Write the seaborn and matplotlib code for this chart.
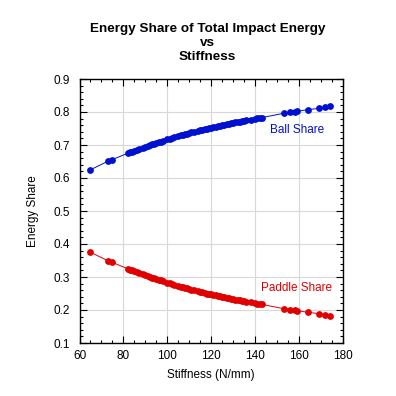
import matplotlib
matplotlib.use("Agg")
import matplotlib.pyplot as plt
import seaborn as sns
import pandas as pd
from matplotlib.ticker import MultipleLocator

stiffness = [65, 73, 75, 82, 83, 84, 85, 86, 87, 89, 90, 91, 92, 93, 94, 95, 96, 97, 98,
             100, 101, 102, 103, 105, 106, 107, 108, 109, 110, 111, 112, 114, 115, 116,
             117, 118, 119, 120, 121, 122, 123, 124, 125, 126, 127, 128, 129, 130, 131,
             132, 133, 134, 135, 136, 138, 140, 141, 142, 143, 153, 156, 158, 159, 164,
             169, 172, 174]
ball_share = [0.625, 0.651, 0.656, 0.675, 0.678, 0.680, 0.683, 0.685, 0.688, 0.692, 0.695,
              0.697, 0.700, 0.702, 0.704, 0.706, 0.708, 0.710, 0.712, 0.717, 0.719, 0.721,
              0.723, 0.727, 0.729, 0.731, 0.732, 0.734, 0.736, 0.738, 0.740, 0.743, 0.745,
              0.746, 0.748, 0.750, 0.751, 0.753, 0.754, 0.756, 0.757, 0.759, 0.760, 0.762,
              0.763, 0.765, 0.766, 0.767, 0.769, 0.770, 0.771, 0.772, 0.774, 0.775, 0.777,
              0.780, 0.781, 0.782, 0.783, 0.796, 0.799, 0.801, 0.802, 0.807, 0.811, 0.814,
              0.817]
paddle_share = [0.375, 0.349, 0.344, 0.325, 0.322, 0.320, 0.317, 0.315, 0.312, 0.308, 0.305,
                0.303, 0.300, 0.298, 0.296, 0.294, 0.292, 0.290, 0.288, 0.283, 0.281, 0.279,
                0.277, 0.273, 0.271, 0.269, 0.268, 0.266, 0.264, 0.262, 0.260, 0.257, 0.255,
                0.254, 0.252, 0.250, 0.249, 0.247, 0.246, 0.244, 0.243, 0.241, 0.240, 0.238,
                0.237, 0.235, 0.234, 0.233, 0.231, 0.230, 0.229, 0.228, 0.226, 0.225, 0.223,
                0.220, 0.219, 0.218, 0.217, 0.204, 0.201, 0.199, 0.198, 0.193, 0.189, 0.186,
                0.183]

title_text = "Energy Share of Total Impact Energy\nvs\nStiffness"
x_label = "Stiffness (N/mm)"
y_label = "Energy Share"
ball_label = "Ball Share"
paddle_label = "Paddle Share"

BLUE = "#0010D0"
RED = "#E00000"

sns.set_style("white")
plt.rcParams["font.family"] = ["Liberation Sans", "DejaVu Sans"]
plt.rcParams["text.color"] = "black"
plt.rcParams["axes.labelcolor"] = "black"
plt.rcParams["xtick.color"] = "black"
plt.rcParams["ytick.color"] = "black"

df = pd.DataFrame({"x": stiffness, "ball": ball_share, "paddle": paddle_share})

fig = plt.figure(figsize=(3.96, 3.96), dpi=100)
ax = fig.add_axes([79.5 / 396, 53 / 396, 263.5 / 396, 264 / 396])

sns.lineplot(data=df, x="x", y="ball", ax=ax, color=BLUE, linewidth=0.7, zorder=3)
sns.scatterplot(data=df, x="x", y="ball", ax=ax, color=BLUE, s=24, linewidth=0, zorder=4)
sns.lineplot(data=df, x="x", y="paddle", ax=ax, color=RED, linewidth=0.7, zorder=3)
sns.scatterplot(data=df, x="x", y="paddle", ax=ax, color=RED, s=24, linewidth=0, zorder=4)

ax.set_xlim(60, 180)
ax.set_ylim(0.1, 0.9)
ax.xaxis.set_major_locator(MultipleLocator(20))
ax.xaxis.set_minor_locator(MultipleLocator(5))
ax.yaxis.set_minor_locator(MultipleLocator(0.02))
ax.set_yticks([0.1, 0.2, 0.3, 0.4, 0.5, 0.6, 0.7, 0.8, 0.9])
ax.set_yticklabels(["0.1", "0.2", "0.3", "0.4", "0.5", "0.6", "0.7", "0.8", "0.9"])

ax.grid(True, which="major", color="#d8d8d8", linewidth=0.8, zorder=0)
ax.set_axisbelow(True)
for sp in ax.spines.values():
    sp.set_visible(True)
    sp.set_color("black")
    sp.set_linewidth(1.0)

ax.tick_params(which="both", direction="in", top=True, right=True, bottom=True, left=True,
               colors="black", labelcolor="black", labelsize=8.5)
ax.tick_params(which="major", length=5, width=0.8, pad=5)
ax.tick_params(which="minor", length=2.5, width=0.8)
ax.tick_params(axis="y", which="major", pad=7)

ax.set_xlabel(x_label, fontsize=8.5, color="black")
ax.set_ylabel(y_label, fontsize=8.5, color="black")
ax.xaxis.set_label_coords(0.5, -0.098)
ax.yaxis.set_label_coords(-0.155, 0.5)

ax.text(159, 0.745, ball_label, color=BLUE, fontsize=8.5, ha="center", va="center")
ax.text(159, 0.267, paddle_label, color=RED, fontsize=8.5, ha="center", va="center")

fig.text(207.5 / 396, (396 - 43) / 396, title_text, ha="center", va="center",
         fontsize=9.7, fontweight="bold", linespacing=1.2, color="black")

fig.savefig("out.png", dpi=100, facecolor="white")
